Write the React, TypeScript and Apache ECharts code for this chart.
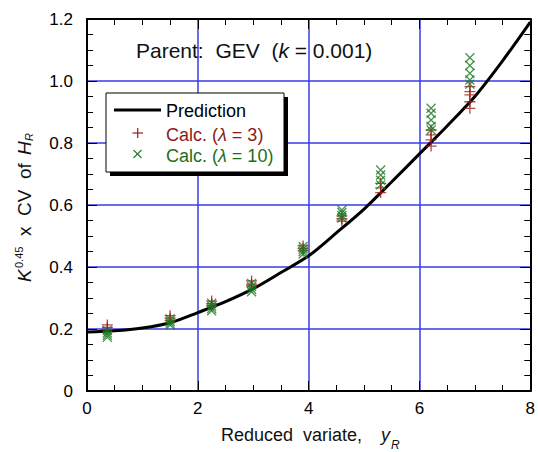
import React, { useEffect, useRef } from "react";
import * as echarts from "echarts";

// ---- data ----
const clusterX = [0.367, 1.5, 2.25, 2.97, 3.9, 4.6, 5.3, 6.21, 6.91];

const calcLambda3 = [
  [0.213, 0.205, 0.198],
  [0.243, 0.235, 0.228],
  [0.29, 0.282, 0.275],
  [0.355, 0.345, 0.338],
  [0.468, 0.46, 0.452],
  [0.565, 0.556, 0.548],
  [0.67, 0.655, 0.64],
  [0.842, 0.826, 0.81, 0.79],
  [0.982, 0.966, 0.955, 0.933, 0.912],
];

const calcLambda10 = [
  [0.195, 0.187, 0.18, 0.173],
  [0.232, 0.225, 0.219, 0.213],
  [0.283, 0.274, 0.266, 0.259],
  [0.347, 0.337, 0.328, 0.32],
  [0.466, 0.458, 0.45, 0.442],
  [0.584, 0.576, 0.566, 0.558],
  [0.713, 0.697, 0.68, 0.665],
  [0.912, 0.896, 0.874, 0.853, 0.842],
  [1.075, 1.05, 1.025, 1.003, 0.99],
];

const predX = [0, 0.5, 1, 1.5, 2, 2.5, 3, 3.5, 4, 4.5, 5, 5.5, 6, 6.5, 7, 7.5, 8];
const predY = [0.19, 0.194, 0.203, 0.22, 0.253, 0.288, 0.33, 0.382, 0.436, 0.51, 0.587, 0.675, 0.765, 0.855, 0.95, 1.065, 1.19];

const xTicks = [0, 2, 4, 6, 8];
const yTicks = [0, 0.2, 0.4, 0.6, 0.8, 1.0, 1.2];

const FONT = "'Liberation Sans', Arial, Helvetica, sans-serif";
const RED = "#8b1a1a";
const GREEN = "#1c6e22";
const GRID_BLUE = "#3a3ae8";

function flatten(groups: number[][]) {
  const out: number[][] = [];
  groups.forEach((g, i) => g.forEach((v) => out.push([clusterX[i], v])));
  return out;
}

export default function App() {
  const ref = useRef<HTMLDivElement>(null);
  useEffect(() => {
    if (!ref.current) return;
    const chart = echarts.init(ref.current, undefined, { renderer: "svg" });

    const legendX = 106;
    const legendY = 93;

    const xBase = {
      type: "value",
      min: xTicks[0],
      max: xTicks[xTicks.length - 1],
      interval: xTicks[1] - xTicks[0],
    };
    const yBase = {
      type: "value",
      min: yTicks[0],
      max: yTicks[yTicks.length - 1],
      interval: yTicks[1] - yTicks[0],
    };
    const tick = { show: true, inside: true, length: 10, lineStyle: { color: "#000", width: 1 } };
    const minor = { show: true, splitNumber: 4, length: 6, lineStyle: { color: "#000", width: 1 } };
    const axLine = { show: true, onZero: false, lineStyle: { color: "#000", width: 2 } };
    const split = { show: true, lineStyle: { color: GRID_BLUE, width: 1.5, type: "solid" } };

    chart.setOption({
      animation: false,
      backgroundColor: "#fff",
      grid: { left: 87, right: 7, top: 19, bottom: 61 },
      xAxis: [
        {
          ...xBase,
          position: "bottom",
          axisLine: axLine,
          axisTick: tick,
          minorTick: minor,
          axisLabel: { color: "#000", fontSize: 17, fontFamily: FONT, margin: 9 },
          splitLine: split,
        },
        {
          ...xBase,
          position: "top",
          axisLine: axLine,
          axisTick: tick,
          minorTick: minor,
          axisLabel: { show: false },
          splitLine: { show: false },
        },
      ],
      yAxis: [
        {
          ...yBase,
          position: "left",
          axisLine: axLine,
          axisTick: tick,
          minorTick: minor,
          axisLabel: {
            color: "#000",
            fontSize: 17,
            fontFamily: FONT,
            margin: 14,
            formatter: (v: number) => (v === 0 ? "0" : v.toFixed(1)),
          },
          splitLine: split,
        },
        {
          ...yBase,
          position: "right",
          axisLine: axLine,
          axisTick: tick,
          minorTick: minor,
          axisLabel: { show: false },
          splitLine: { show: false },
        },
      ],
      series: [
        {
          name: "Prediction",
          type: "line",
          data: predX.map((x, i) => [x, predY[i]]),
          smooth: 0.3,
          showSymbol: false,
          symbol: "none",
          lineStyle: { color: "#000", width: 3 },
          z: 3,
        },
        {
          name: "Calc. (λ = 3)",
          type: "scatter",
          data: flatten(calcLambda3),
          symbol: "path://M0,5L10,5M5,0L5,10",
          symbolSize: 11,
          itemStyle: { color: "rgba(0,0,0,0)", borderColor: "#a01a1a", borderWidth: 1.3 },
          z: 4,
        },
        {
          name: "Calc. (λ = 10)",
          type: "scatter",
          data: flatten(calcLambda10),
          symbol: "path://M0,0L10,10M10,0L0,10",
          symbolSize: 9,
          itemStyle: { color: "rgba(0,0,0,0)", borderColor: "#1a7a22", borderWidth: 1.3 },
          z: 5,
        },
      ],
      graphic: [
        {
          type: "text",
          x: 136,
          y: 50,
          z: 20,
          style: {
            text: "{n|Parent:  GEV  (}{i|k}{n| = 0.001)}",
            verticalAlign: "middle",
            align: "left",
            rich: {
              n: { fontSize: 21, fontFamily: FONT, fill: "#111" },
              i: { fontSize: 21, fontFamily: FONT, fontStyle: "italic", fill: "#111" },
            },
          },
        },
        {
          type: "rect",
          z: 20,
          shape: { x: legendX + 4, y: legendY + 4, width: 178, height: 79 },
          style: { fill: "#000" },
        },
        {
          type: "rect",
          z: 21,
          shape: { x: legendX, y: legendY, width: 178, height: 79 },
          style: { fill: "#fff", stroke: "#000", lineWidth: 1 },
        },
        {
          type: "line",
          z: 22,
          shape: { x1: legendX + 8, y1: 110, x2: legendX + 55, y2: 110 },
          style: { stroke: "#000", lineWidth: 3 },
        },
        {
          type: "text",
          z: 22,
          x: 166,
          y: 111,
          style: { text: "Prediction", fontSize: 18, fontFamily: FONT, fill: "#000", verticalAlign: "middle" },
        },
        {
          type: "line",
          z: 22,
          shape: { x1: 132.5, y1: 133, x2: 143, y2: 133 },
          style: { stroke: "#a01a1a", lineWidth: 1.2 },
        },
        {
          type: "line",
          z: 22,
          shape: { x1: 137.7, y1: 128, x2: 137.7, y2: 138 },
          style: { stroke: "#a01a1a", lineWidth: 1.2 },
        },
        {
          type: "text",
          z: 22,
          x: 166,
          y: 135,
          style: {
            text: "{n|Calc. (}{i|λ}{n| = 3)}",
            verticalAlign: "middle",
            rich: {
              n: { fontSize: 18, fontFamily: FONT, fill: RED },
              i: { fontSize: 18, fontFamily: FONT, fontStyle: "italic", fill: RED },
            },
          },
        },
        {
          type: "line",
          z: 22,
          shape: { x1: 133.5, y1: 150, x2: 141.5, y2: 158 },
          style: { stroke: "#1a7a22", lineWidth: 1.1 },
        },
        {
          type: "line",
          z: 22,
          shape: { x1: 141.5, y1: 150, x2: 133.5, y2: 158 },
          style: { stroke: "#1a7a22", lineWidth: 1.1 },
        },
        {
          type: "text",
          z: 22,
          x: 166,
          y: 156,
          style: {
            text: "{n|Calc. (}{i|λ}{n| = 10)}",
            verticalAlign: "middle",
            rich: {
              n: { fontSize: 18, fontFamily: FONT, fill: GREEN },
              i: { fontSize: 18, fontFamily: FONT, fontStyle: "italic", fill: GREEN },
            },
          },
        },
        {
          type: "text",
          z: 20,
          x: 362,
          y: 435,
          style: { text: "Reduced  variate,", fontSize: 18, fontFamily: FONT, fill: "#111", align: "right", verticalAlign: "middle" },
        },
        {
          type: "text",
          z: 20,
          x: 381,
          y: 435,
          style: { text: "y", fontSize: 18, fontFamily: FONT, fontStyle: "italic", fill: "#111", align: "left", verticalAlign: "middle" },
        },
        {
          type: "text",
          z: 20,
          x: 391,
          y: 445,
          style: { text: "R", fontSize: 12, fontFamily: FONT, fontStyle: "italic", fill: "#111", align: "left", verticalAlign: "middle" },
        },
        {
          type: "group",
          x: 24,
          y: 282,
          rotation: Math.PI / 2,
          z: 20,
          children: [
            {
              type: "text",
              x: 0,
              y: 0,
              style: { text: "K", fontSize: 19, fontFamily: FONT, fontStyle: "italic", fill: "#111", verticalAlign: "middle" },
            },
            {
              type: "text",
              x: 14,
              y: -5,
              style: { text: "0.45", fontSize: 11, fontFamily: FONT, fill: "#111", verticalAlign: "middle" },
            },
            {
              type: "text",
              x: 46,
              y: 0,
              style: { text: "x  CV  of", fontSize: 19, fontFamily: FONT, fill: "#111", verticalAlign: "middle" },
            },
            {
              type: "text",
              x: 127,
              y: 0,
              style: { text: "H", fontSize: 19, fontFamily: FONT, fontStyle: "italic", fill: "#111", verticalAlign: "middle" },
            },
            {
              type: "text",
              x: 141,
              y: 5,
              style: { text: "R", fontSize: 11, fontFamily: FONT, fontStyle: "italic", fill: "#111", verticalAlign: "middle" },
            },
          ],
        },
      ],
    });
    return () => chart.dispose();
  }, []);
  return <div ref={ref} style={{ width: 538, height: 452, position: "absolute", left: 0, top: 0 }} />;
}
